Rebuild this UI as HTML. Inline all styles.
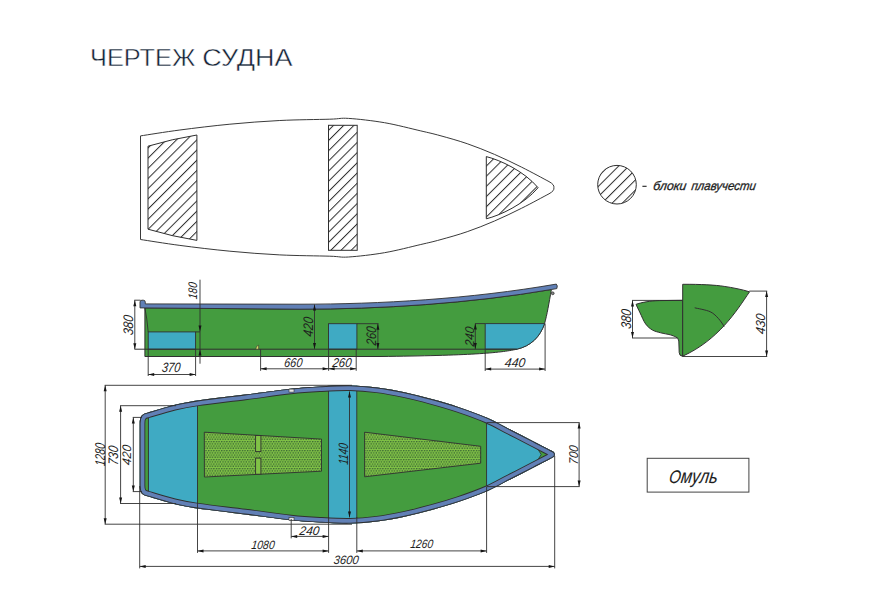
<!DOCTYPE html>
<html><head><meta charset="utf-8">
<style>
html,body{margin:0;padding:0;background:#fff;}
body{width:881px;height:598px;overflow:hidden;position:relative;}
svg{position:absolute;left:0;top:0;}
.t{font-family:"Liberation Sans",sans-serif;fill:#132235;}
.d{font-family:"Liberation Sans",sans-serif;font-style:italic;fill:#1e1e1e;}
.g{font-family:"Liberation Sans",sans-serif;font-style:italic;fill:#1e1e1e;}
</style></head><body>
<svg width="881" height="598" viewBox="0 0 881 598">
<defs>
<pattern id="hatch" patternUnits="userSpaceOnUse" width="7.2" height="7.2" patternTransform="rotate(45)">
<rect width="7.2" height="7.2" fill="#fff"/>
<line x1="0.5" y1="0" x2="0.5" y2="7.2" stroke="#2e2e2e" stroke-width="1"/>
</pattern>
<pattern id="mesh" patternUnits="userSpaceOnUse" width="2.6" height="4.5">
<rect width="2.6" height="4.5" fill="#80c246"/>
<circle cx="0.65" cy="0.56" r="0.8" fill="#3b6634"/>
<circle cx="1.95" cy="2.81" r="0.8" fill="#3b6634"/>
</pattern>
</defs>
<text x="90" y="65.7" class="t" font-size="24.4" textLength="105.3" lengthAdjust="spacingAndGlyphs" stroke="#fff" stroke-width="0.45">ЧЕРТЕЖ</text>
<text x="202.3" y="65.7" class="t" font-size="24.4" textLength="90.3" lengthAdjust="spacingAndGlyphs" stroke="#fff" stroke-width="0.45">СУДНА</text>
<path d="M140.5,135.9 C147.07,134.92 165,131.95 179.9,130 C194.8,128.05 213.25,125.78 229.9,124.2 C246.55,122.62 263.15,121.33 279.8,120.5 C296.45,119.67 318.35,119.55 329.8,119.2 C341.25,118.85 339.38,117.82 348.5,118.4 C357.62,118.98 372.45,120.62 384.5,122.7 C396.55,124.78 411.55,128.75 420.8,130.9 C430.05,133.05 432.27,133.47 440,135.6 C447.73,137.73 458.12,140.57 467.2,143.7 C476.28,146.83 485.42,150.48 494.5,154.4 C503.58,158.32 512.62,162.67 521.7,167.2 C530.78,171.73 544.45,179.2 549,181.6 Q554.6,184.6 553.9,187.7 Q554.6,190.8 549,193.8 C544.45,196.2 530.78,203.67 521.7,208.2 C512.62,212.73 503.58,217.08 494.5,221 C485.42,224.92 476.28,228.57 467.2,231.7 C458.12,234.83 447.73,237.67 440,239.8 C432.27,241.93 430.05,242.35 420.8,244.5 C411.55,246.65 396.55,250.62 384.5,252.7 C372.45,254.78 357.62,256.42 348.5,257 C339.38,257.58 341.25,256.55 329.8,256.2 C318.35,255.85 296.45,255.73 279.8,254.9 C263.15,254.07 246.55,252.78 229.9,251.2 C213.25,249.62 194.8,247.35 179.9,245.4 C165,243.45 147.07,240.48 140.5,239.5 Z" fill="#fff" stroke="#3a3a3a" stroke-width="1"/>
<path d="M148,146.2 Q172,139 196.9,135 L196.9,240.4 Q172,236.4 148,229.2 Z" fill="url(#hatch)" stroke="#2e2e2e" stroke-width="1"/>
<rect x="328.5" y="125.3" width="28.7" height="125" fill="url(#hatch)" stroke="#2e2e2e" stroke-width="1"/>
<path d="M486.3,156.6 C500,160 524,171 538.1,187.7 C524,204.4 500,215.4 486.3,218.8 Z" fill="url(#hatch)" stroke="#2e2e2e" stroke-width="1"/>
<circle cx="617" cy="184.7" r="19.3" fill="url(#hatch)" stroke="#2e2e2e" stroke-width="1"/>
<path d="M642.4,186.3 L646.6,186.3" stroke="#1e1e1e" stroke-width="1.1"/>
<text x="0" y="0" transform="translate(652.8,189.8) skewX(-8)" class="g" font-size="12.5" stroke="#1e1e1e" stroke-width="0.3" textLength="33.2" lengthAdjust="spacingAndGlyphs">блоки</text>
<text x="0" y="0" transform="translate(690.9,189.8) skewX(-8)" class="g" font-size="12.5" stroke="#1e1e1e" stroke-width="0.3" textLength="64.6" lengthAdjust="spacingAndGlyphs">плавучести</text>
<path d="M144.9,307.9 L300,309.2 C380,309.2 470,303.5 551.4,289.5 C549,303 547,315 544.6,323.5 C540,337 531,346 516.8,349.2 C500,353 470,355.5 380,356.5 L144.9,356.5 Z" fill="#449c3f" stroke="#303030" stroke-width="1"/>
<rect x="148.2" y="331.9" width="47.4" height="17.3" fill="#3faac3" stroke="#303030" stroke-width="0.9"/>
<rect x="328.5" y="323.7" width="28.4" height="25.5" fill="#3faac3" stroke="#303030" stroke-width="0.9"/>
<path d="M485.2,323.6 L544.6,323.6 C540,337 531,346 516.8,349.2 L485.2,349.2 Z" fill="#3faac3" stroke="#303030" stroke-width="0.9"/>
<line x1="134.5" y1="349.2" x2="517" y2="349.2" stroke="#303030" stroke-width="1.0"/>
<path d="M144.9,307.9 Q147,318 148.2,331.9" fill="none" stroke="#303030" stroke-width="0.9"/>
<line x1="195.6" y1="331.9" x2="200" y2="331.9" stroke="#303030" stroke-width="0.9"/>
<path d="M140,307.9 L140,302 Q140,300.2 142,300.2 L143.3,300.2 Q145.3,300.2 145.3,302.2 L145.3,303.9 L300,304.2 C380,304.2 470,299 556.3,284.1 Q558,285.5 556.8,288.6 L551.4,289.5 C470,303.5 380,309.2 300,309.2 L140,307.9 Z" fill="#6180b6" stroke="#303030" stroke-width="0.9"/>
<circle cx="552.7" cy="293.3" r="1.4" fill="#888" stroke="#303030" stroke-width="0.8"/>
<path d="M255.8,349.2 Q256,345.6 258.6,345.2 L258.6,349.2 Z" fill="#d9e06a" stroke="#333" stroke-width="0.6"/>
<line x1="134.8" y1="300.2" x2="134.8" y2="349.2" stroke="#303030" stroke-width="0.9"/>
<path d="M134.8,300.2 L136.3,306.2 L133.3,306.2 Z" fill="#151515"/>
<path d="M134.8,349.2 L133.3,343.2 L136.3,343.2 Z" fill="#151515"/>
<line x1="134.3" y1="300.2" x2="140.5" y2="300.2" stroke="#303030" stroke-width="0.9"/>
<text x="0" y="0" transform="translate(133.2,335.6) rotate(-90) skewX(-7)" class="d" font-size="13.82" textLength="20.04" lengthAdjust="spacingAndGlyphs">380</text>
<line x1="200" y1="279.7" x2="200" y2="363.7" stroke="#303030" stroke-width="0.9"/>
<path d="M200,331.6 L198.5,325.6 L201.5,325.6 Z" fill="#151515"/>
<path d="M200,349.6 L201.5,355.6 L198.5,355.6 Z" fill="#151515"/>
<text x="0" y="0" transform="translate(197.1,299.5) rotate(-90) skewX(-7)" class="d" font-size="12.4" textLength="16.72" lengthAdjust="spacingAndGlyphs">180</text>
<line x1="314.5" y1="304.6" x2="314.5" y2="348.9" stroke="#303030" stroke-width="0.9"/>
<path d="M314.5,304.6 L316,310.6 L313,310.6 Z" fill="#151515"/>
<path d="M314.5,348.9 L313,342.9 L316,342.9 Z" fill="#151515"/>
<text x="0" y="0" transform="translate(312.5,337) rotate(-90) skewX(-7)" class="d" font-size="13.82" textLength="19.44" lengthAdjust="spacingAndGlyphs">420</text>
<line x1="377.9" y1="323.7" x2="377.9" y2="349" stroke="#303030" stroke-width="0.9"/>
<path d="M377.9,323.7 L379.4,329.7 L376.4,329.7 Z" fill="#151515"/>
<path d="M377.9,349 L376.4,343 L379.4,343 Z" fill="#151515"/>
<line x1="356.9" y1="323.7" x2="378.5" y2="323.7" stroke="#303030" stroke-width="0.9"/>
<text x="0" y="0" transform="translate(376.1,345.7) rotate(-90) skewX(-7)" class="d" font-size="13.82" textLength="18.64" lengthAdjust="spacingAndGlyphs">260</text>
<line x1="475.3" y1="323.6" x2="475.3" y2="349.1" stroke="#303030" stroke-width="0.9"/>
<path d="M475.3,323.6 L476.8,329.6 L473.8,329.6 Z" fill="#151515"/>
<path d="M475.3,349.1 L473.8,343.1 L476.8,343.1 Z" fill="#151515"/>
<line x1="475" y1="323.6" x2="485.2" y2="323.6" stroke="#303030" stroke-width="0.9"/>
<text x="0" y="0" transform="translate(473.6,346.7) rotate(-90) skewX(-7)" class="d" font-size="12.75" textLength="19.54" lengthAdjust="spacingAndGlyphs">240</text>
<line x1="148.2" y1="374.5" x2="195.6" y2="374.5" stroke="#303030" stroke-width="0.9"/>
<path d="M148.2,374.5 L154.2,373 L154.2,376 Z" fill="#151515"/>
<path d="M195.6,374.5 L189.6,376 L189.6,373 Z" fill="#151515"/>
<line x1="148.2" y1="349.2" x2="148.2" y2="376" stroke="#303030" stroke-width="0.9"/>
<line x1="195.6" y1="349.2" x2="195.6" y2="376" stroke="#303030" stroke-width="0.9"/>
<text x="0" y="0" transform="translate(161.4,372.2) skewX(-7)" class="d" font-size="13.46" textLength="18.54" lengthAdjust="spacingAndGlyphs">370</text>
<line x1="260.6" y1="368.8" x2="328.6" y2="368.8" stroke="#303030" stroke-width="0.9"/>
<path d="M260.6,368.8 L266.6,367.3 L266.6,370.3 Z" fill="#151515"/>
<path d="M328.6,368.8 L322.6,370.3 L322.6,367.3 Z" fill="#151515"/>
<line x1="260.6" y1="349.2" x2="260.6" y2="370.8" stroke="#303030" stroke-width="0.9"/>
<line x1="328.6" y1="349.2" x2="328.6" y2="370.8" stroke="#303030" stroke-width="0.9"/>
<text x="0" y="0" transform="translate(283.8,367) skewX(-7)" class="d" font-size="12.75" textLength="18.13" lengthAdjust="spacingAndGlyphs">660</text>
<line x1="328.6" y1="368.8" x2="356.2" y2="368.8" stroke="#303030" stroke-width="0.9"/>
<path d="M328.6,368.8 L334.6,367.3 L334.6,370.3 Z" fill="#151515"/>
<path d="M356.2,368.8 L350.2,370.3 L350.2,367.3 Z" fill="#151515"/>
<line x1="356.2" y1="349.2" x2="356.2" y2="370.8" stroke="#303030" stroke-width="0.9"/>
<text x="0" y="0" transform="translate(331.9,367) skewX(-7)" class="d" font-size="12.75" textLength="19.25" lengthAdjust="spacingAndGlyphs">260</text>
<line x1="485.2" y1="369.1" x2="545.1" y2="369.1" stroke="#303030" stroke-width="0.9"/>
<path d="M485.2,369.1 L491.2,367.6 L491.2,370.6 Z" fill="#151515"/>
<path d="M545.1,369.1 L539.1,370.6 L539.1,367.6 Z" fill="#151515"/>
<line x1="485.2" y1="349.2" x2="485.2" y2="371" stroke="#303030" stroke-width="0.9"/>
<line x1="545.1" y1="323.6" x2="545.1" y2="371" stroke="#303030" stroke-width="0.9"/>
<text x="0" y="0" transform="translate(504.3,367) skewX(-7)" class="d" font-size="12.75" textLength="20.54" lengthAdjust="spacingAndGlyphs">440</text>
<path d="M682.6,300.3 L682.6,356.3 Q679.3,356 679.2,352.5 L678.8,341 Q678.3,337.5 675.7,336.9 C674.78,336.55 672.7,335.48 670.2,334.8 C667.7,334.12 663.67,333.6 660.7,332.8 C657.73,332 654.92,331.48 652.4,330 C649.88,328.52 647.65,326.75 645.6,323.9 C643.55,321.05 641.7,316.15 640.1,312.9 C638.5,309.65 636.68,305.82 636,304.4 C641,302.5 650,300.8 659.3,300.6 L682.6,300.3 Z" fill="#449c3f" stroke="#303030" stroke-width="1"/>
<path d="M682.7,284.3 C700,284.2 716,285 724.2,286.4 C732,287.5 742,289.5 749.5,291.8 C736,312 718,340 682.7,356.2 Z" fill="#449c3f" stroke="#303030" stroke-width="1"/>
<path d="M694.7,307.8 C697.27,308.45 706.12,309.88 710.1,311.7 C714.08,313.52 716.25,316.23 718.6,318.7 C720.95,321.17 723.27,325.2 724.2,326.5 " fill="none" stroke="#303030" stroke-width="1"/>
<line x1="632.5" y1="300.4" x2="632.5" y2="338" stroke="#303030" stroke-width="0.9"/>
<path d="M632.5,300.4 L634,306.4 L631,306.4 Z" fill="#151515"/>
<path d="M632.5,338 L631,332 L634,332 Z" fill="#151515"/>
<line x1="632" y1="300.4" x2="682.6" y2="300.4" stroke="#303030" stroke-width="0.9"/>
<line x1="632" y1="338" x2="677.5" y2="338" stroke="#303030" stroke-width="0.9"/>
<text x="0" y="0" transform="translate(630.5,329.3) rotate(-90) skewX(-7)" class="d" font-size="14.12" textLength="19.72" lengthAdjust="spacingAndGlyphs">380</text>
<line x1="766.6" y1="291.1" x2="766.6" y2="356.5" stroke="#303030" stroke-width="0.9"/>
<path d="M766.6,291.1 L768.1,297.1 L765.1,297.1 Z" fill="#151515"/>
<path d="M766.6,356.5 L765.1,350.5 L768.1,350.5 Z" fill="#151515"/>
<line x1="749.3" y1="291.1" x2="767.2" y2="291.1" stroke="#303030" stroke-width="0.9"/>
<line x1="682.6" y1="356.5" x2="767.2" y2="356.5" stroke="#303030" stroke-width="0.9"/>
<text x="0" y="0" transform="translate(764.5,334.5) rotate(-90) skewX(-7)" class="d" font-size="13.1" textLength="20.32" lengthAdjust="spacingAndGlyphs">430</text>
<defs><clipPath id="pc"><path d="M139.7,430 L139.7,423.5 C139.7,417 141.5,413.8 147.4,412.7 C151.85,411.42 165.72,407.03 174.1,405 C182.48,402.97 185.88,402.23 197.7,400.5 C209.52,398.77 229.52,396.57 245,394.6 C260.48,392.63 278.1,390.07 290.6,388.7 C303.1,387.33 310.1,386.95 320,386.4 C329.9,385.85 340.47,385.22 350,385.4 C359.53,385.58 368.12,386.35 377.2,387.5 C386.28,388.65 395.42,390.37 404.5,392.3 C413.58,394.23 422.63,396.62 431.7,399.1 C440.77,401.58 449.57,404.05 458.9,407.2 C468.23,410.35 479.12,414.27 487.7,418 C496.28,421.73 502.83,425.72 510.4,429.6 C517.97,433.48 526.58,437.93 533.1,441.3 C539.62,444.67 546.77,448.38 549.5,449.8 Q555.5,452.2 554.7,454.5 Q555.5,456.8 549.5,459.2 C546.77,460.62 539.62,464.33 533.1,467.7 C526.58,471.07 517.97,475.52 510.4,479.4 C502.83,483.28 496.28,487.27 487.7,491 C479.12,494.73 468.23,498.65 458.9,501.8 C449.57,504.95 440.77,507.42 431.7,509.9 C422.63,512.38 413.58,514.77 404.5,516.7 C395.42,518.63 386.28,520.35 377.2,521.5 C368.12,522.65 359.53,523.42 350,523.6 C340.47,523.78 329.9,523.15 320,522.6 C310.1,522.05 303.1,521.67 290.6,520.3 C278.1,518.93 260.48,516.37 245,514.4 C229.52,512.43 209.52,510.23 197.7,508.5 C185.88,506.77 182.48,506.03 174.1,504 C165.72,501.97 151.85,497.58 147.4,496.3 C141.5,495.2 139.7,492 139.7,485.5 Z"/></clipPath></defs>
<path d="M139.7,430 L139.7,423.5 C139.7,417 141.5,413.8 147.4,412.7 C151.85,411.42 165.72,407.03 174.1,405 C182.48,402.97 185.88,402.23 197.7,400.5 C209.52,398.77 229.52,396.57 245,394.6 C260.48,392.63 278.1,390.07 290.6,388.7 C303.1,387.33 310.1,386.95 320,386.4 C329.9,385.85 340.47,385.22 350,385.4 C359.53,385.58 368.12,386.35 377.2,387.5 C386.28,388.65 395.42,390.37 404.5,392.3 C413.58,394.23 422.63,396.62 431.7,399.1 C440.77,401.58 449.57,404.05 458.9,407.2 C468.23,410.35 479.12,414.27 487.7,418 C496.28,421.73 502.83,425.72 510.4,429.6 C517.97,433.48 526.58,437.93 533.1,441.3 C539.62,444.67 546.77,448.38 549.5,449.8 Q555.5,452.2 554.7,454.5 Q555.5,456.8 549.5,459.2 C546.77,460.62 539.62,464.33 533.1,467.7 C526.58,471.07 517.97,475.52 510.4,479.4 C502.83,483.28 496.28,487.27 487.7,491 C479.12,494.73 468.23,498.65 458.9,501.8 C449.57,504.95 440.77,507.42 431.7,509.9 C422.63,512.38 413.58,514.77 404.5,516.7 C395.42,518.63 386.28,520.35 377.2,521.5 C368.12,522.65 359.53,523.42 350,523.6 C340.47,523.78 329.9,523.15 320,522.6 C310.1,522.05 303.1,521.67 290.6,520.3 C278.1,518.93 260.48,516.37 245,514.4 C229.52,512.43 209.52,510.23 197.7,508.5 C185.88,506.77 182.48,506.03 174.1,504 C165.72,501.97 151.85,497.58 147.4,496.3 C141.5,495.2 139.7,492 139.7,485.5 Z" fill="#449c3f"/>
<g clip-path="url(#pc)">
<rect x="148.4" y="380" width="49.1" height="150" fill="#3faac3" stroke="#303030" stroke-width="0.9"/>
<rect x="328.6" y="380" width="28.2" height="150" fill="#3faac3" stroke="#303030" stroke-width="0.9"/>
<rect x="486.6" y="380" width="100" height="150" fill="#3faac3" stroke="#303030" stroke-width="0.9"/>
<path d="M537.6,448.7 L549,454.5 L537.6,460.3 L541.2,454.5 Z" fill="#449c3f" stroke="#303030" stroke-width="0.8"/>
<path d="M139.7,430 L139.7,423.5 C139.7,417 141.5,413.8 147.4,412.7 C151.85,411.42 165.72,407.03 174.1,405 C182.48,402.97 185.88,402.23 197.7,400.5 C209.52,398.77 229.52,396.57 245,394.6 C260.48,392.63 278.1,390.07 290.6,388.7 C303.1,387.33 310.1,386.95 320,386.4 C329.9,385.85 340.47,385.22 350,385.4 C359.53,385.58 368.12,386.35 377.2,387.5 C386.28,388.65 395.42,390.37 404.5,392.3 C413.58,394.23 422.63,396.62 431.7,399.1 C440.77,401.58 449.57,404.05 458.9,407.2 C468.23,410.35 479.12,414.27 487.7,418 C496.28,421.73 502.83,425.72 510.4,429.6 C517.97,433.48 526.58,437.93 533.1,441.3 C539.62,444.67 546.77,448.38 549.5,449.8 Q555.5,452.2 554.7,454.5 Q555.5,456.8 549.5,459.2 C546.77,460.62 539.62,464.33 533.1,467.7 C526.58,471.07 517.97,475.52 510.4,479.4 C502.83,483.28 496.28,487.27 487.7,491 C479.12,494.73 468.23,498.65 458.9,501.8 C449.57,504.95 440.77,507.42 431.7,509.9 C422.63,512.38 413.58,514.77 404.5,516.7 C395.42,518.63 386.28,520.35 377.2,521.5 C368.12,522.65 359.53,523.42 350,523.6 C340.47,523.78 329.9,523.15 320,522.6 C310.1,522.05 303.1,521.67 290.6,520.3 C278.1,518.93 260.48,516.37 245,514.4 C229.52,512.43 209.52,510.23 197.7,508.5 C185.88,506.77 182.48,506.03 174.1,504 C165.72,501.97 151.85,497.58 147.4,496.3 C141.5,495.2 139.7,492 139.7,485.5 Z" fill="none" stroke="#303030" stroke-width="11.2"/>
<path d="M139.7,430 L139.7,423.5 C139.7,417 141.5,413.8 147.4,412.7 C151.85,411.42 165.72,407.03 174.1,405 C182.48,402.97 185.88,402.23 197.7,400.5 C209.52,398.77 229.52,396.57 245,394.6 C260.48,392.63 278.1,390.07 290.6,388.7 C303.1,387.33 310.1,386.95 320,386.4 C329.9,385.85 340.47,385.22 350,385.4 C359.53,385.58 368.12,386.35 377.2,387.5 C386.28,388.65 395.42,390.37 404.5,392.3 C413.58,394.23 422.63,396.62 431.7,399.1 C440.77,401.58 449.57,404.05 458.9,407.2 C468.23,410.35 479.12,414.27 487.7,418 C496.28,421.73 502.83,425.72 510.4,429.6 C517.97,433.48 526.58,437.93 533.1,441.3 C539.62,444.67 546.77,448.38 549.5,449.8 Q555.5,452.2 554.7,454.5 Q555.5,456.8 549.5,459.2 C546.77,460.62 539.62,464.33 533.1,467.7 C526.58,471.07 517.97,475.52 510.4,479.4 C502.83,483.28 496.28,487.27 487.7,491 C479.12,494.73 468.23,498.65 458.9,501.8 C449.57,504.95 440.77,507.42 431.7,509.9 C422.63,512.38 413.58,514.77 404.5,516.7 C395.42,518.63 386.28,520.35 377.2,521.5 C368.12,522.65 359.53,523.42 350,523.6 C340.47,523.78 329.9,523.15 320,522.6 C310.1,522.05 303.1,521.67 290.6,520.3 C278.1,518.93 260.48,516.37 245,514.4 C229.52,512.43 209.52,510.23 197.7,508.5 C185.88,506.77 182.48,506.03 174.1,504 C165.72,501.97 151.85,497.58 147.4,496.3 C141.5,495.2 139.7,492 139.7,485.5 Z" fill="none" stroke="#6180b6" stroke-width="9.4"/>
<path d="M139.7,430 L139.7,423.5 C139.7,417 141.5,413.8 147.4,412.7 C151.85,411.42 165.72,407.03 174.1,405 C182.48,402.97 185.88,402.23 197.7,400.5 C209.52,398.77 229.52,396.57 245,394.6 C260.48,392.63 278.1,390.07 290.6,388.7 C303.1,387.33 310.1,386.95 320,386.4 C329.9,385.85 340.47,385.22 350,385.4 C359.53,385.58 368.12,386.35 377.2,387.5 C386.28,388.65 395.42,390.37 404.5,392.3 C413.58,394.23 422.63,396.62 431.7,399.1 C440.77,401.58 449.57,404.05 458.9,407.2 C468.23,410.35 479.12,414.27 487.7,418 C496.28,421.73 502.83,425.72 510.4,429.6 C517.97,433.48 526.58,437.93 533.1,441.3 C539.62,444.67 546.77,448.38 549.5,449.8 Q555.5,452.2 554.7,454.5 Q555.5,456.8 549.5,459.2 C546.77,460.62 539.62,464.33 533.1,467.7 C526.58,471.07 517.97,475.52 510.4,479.4 C502.83,483.28 496.28,487.27 487.7,491 C479.12,494.73 468.23,498.65 458.9,501.8 C449.57,504.95 440.77,507.42 431.7,509.9 C422.63,512.38 413.58,514.77 404.5,516.7 C395.42,518.63 386.28,520.35 377.2,521.5 C368.12,522.65 359.53,523.42 350,523.6 C340.47,523.78 329.9,523.15 320,522.6 C310.1,522.05 303.1,521.67 290.6,520.3 C278.1,518.93 260.48,516.37 245,514.4 C229.52,512.43 209.52,510.23 197.7,508.5 C185.88,506.77 182.48,506.03 174.1,504 C165.72,501.97 151.85,497.58 147.4,496.3 C141.5,495.2 139.7,492 139.7,485.5 Z" fill="none" stroke="#303030" stroke-width="1.8"/>
</g>
<path d="M204.3,432.2 L321.5,439.1 L321.5,471.2 L204.4,477 Z" fill="url(#mesh)" stroke="#303030" stroke-width="0.9"/>
<rect x="255.6" y="435.5" width="5.3" height="16.1" fill="#80c246" stroke="#303030" stroke-width="0.9"/>
<rect x="255.6" y="458.1" width="5.3" height="16.1" fill="#80c246" stroke="#303030" stroke-width="0.9"/>
<path d="M364.6,432.2 L480.7,446.3 L480.7,463.2 L364.6,476.8 Z" fill="url(#mesh)" stroke="#303030" stroke-width="0.9"/>
<rect x="289" y="389.1" width="5" height="3" fill="#e8e8e8" stroke="#333" stroke-width="0.6"/>
<rect x="289" y="517.5" width="5" height="3" fill="#e8e8e8" stroke="#333" stroke-width="0.6"/>
<line x1="105.2" y1="385.3" x2="105.2" y2="524.2" stroke="#303030" stroke-width="0.9"/>
<path d="M105.2,385.3 L106.7,391.3 L103.7,391.3 Z" fill="#151515"/>
<path d="M105.2,524.2 L103.7,518.2 L106.7,518.2 Z" fill="#151515"/>
<line x1="104.7" y1="385.3" x2="352" y2="385.3" stroke="#303030" stroke-width="0.9"/>
<line x1="104.7" y1="524.2" x2="352" y2="524.2" stroke="#303030" stroke-width="0.9"/>
<text x="0" y="0" transform="translate(104.6,466.3) rotate(-90) skewX(-7)" class="d" font-size="14.16" textLength="22.71" lengthAdjust="spacingAndGlyphs">1280</text>
<line x1="120.6" y1="405.7" x2="120.6" y2="503.5" stroke="#303030" stroke-width="0.9"/>
<path d="M120.6,405.7 L122.1,411.7 L119.1,411.7 Z" fill="#151515"/>
<path d="M120.6,503.5 L119.1,497.5 L122.1,497.5 Z" fill="#151515"/>
<line x1="120.1" y1="405.7" x2="176" y2="405.7" stroke="#303030" stroke-width="0.9"/>
<line x1="120.1" y1="503.5" x2="176" y2="503.5" stroke="#303030" stroke-width="0.9"/>
<text x="0" y="0" transform="translate(118.3,465.6) rotate(-90) skewX(-7)" class="d" font-size="13.82" textLength="19.32" lengthAdjust="spacingAndGlyphs">730</text>
<line x1="133.3" y1="417.4" x2="133.3" y2="491.6" stroke="#303030" stroke-width="0.9"/>
<path d="M133.3,417.4 L134.8,423.4 L131.8,423.4 Z" fill="#151515"/>
<path d="M133.3,491.6 L131.8,485.6 L134.8,485.6 Z" fill="#151515"/>
<line x1="132.8" y1="417.4" x2="142" y2="417.4" stroke="#303030" stroke-width="0.9"/>
<line x1="132.8" y1="491.6" x2="142" y2="491.6" stroke="#303030" stroke-width="0.9"/>
<text x="0" y="0" transform="translate(131.1,465.5) rotate(-90) skewX(-7)" class="d" font-size="12.43" textLength="20.12" lengthAdjust="spacingAndGlyphs">420</text>
<line x1="349.5" y1="391.4" x2="349.5" y2="517.4" stroke="#303030" stroke-width="0.9"/>
<path d="M349.5,391.4 L351,397.4 L348,397.4 Z" fill="#151515"/>
<path d="M349.5,517.4 L348,511.4 L351,511.4 Z" fill="#151515"/>
<text x="0" y="0" transform="translate(348.2,465.1) rotate(-90) skewX(-7)" class="d" font-size="13.46" textLength="21.35" lengthAdjust="spacingAndGlyphs">1140</text>
<line x1="579.1" y1="422.6" x2="579.1" y2="486.6" stroke="#303030" stroke-width="0.9"/>
<path d="M579.1,422.6 L580.6,428.6 L577.6,428.6 Z" fill="#151515"/>
<path d="M579.1,486.6 L577.6,480.6 L580.6,480.6 Z" fill="#151515"/>
<line x1="486.6" y1="422.6" x2="579.6" y2="422.6" stroke="#303030" stroke-width="0.9"/>
<line x1="486.6" y1="486.6" x2="579.6" y2="486.6" stroke="#303030" stroke-width="0.9"/>
<text x="0" y="0" transform="translate(577.6,464.9) rotate(-90) skewX(-7)" class="d" font-size="12.75" textLength="19.13" lengthAdjust="spacingAndGlyphs">700</text>
<line x1="291.2" y1="536.4" x2="328.6" y2="536.4" stroke="#303030" stroke-width="0.9"/>
<path d="M291.2,536.4 L297.2,534.9 L297.2,537.9 Z" fill="#151515"/>
<path d="M328.6,536.4 L322.6,537.9 L322.6,534.9 Z" fill="#151515"/>
<line x1="291.2" y1="519" x2="291.2" y2="538.4" stroke="#303030" stroke-width="0.9"/>
<text x="0" y="0" transform="translate(299,534.6) skewX(-7)" class="d" font-size="12.4" textLength="20.05" lengthAdjust="spacingAndGlyphs">240</text>
<line x1="197.5" y1="550.9" x2="328.6" y2="550.9" stroke="#303030" stroke-width="0.9"/>
<path d="M197.5,550.9 L203.5,549.4 L203.5,552.4 Z" fill="#151515"/>
<path d="M328.6,550.9 L322.6,552.4 L322.6,549.4 Z" fill="#151515"/>
<line x1="197.5" y1="503" x2="197.5" y2="552.9" stroke="#303030" stroke-width="0.9"/>
<line x1="328.6" y1="517" x2="328.6" y2="552.9" stroke="#303030" stroke-width="0.9"/>
<text x="0" y="0" transform="translate(251,548.6) skewX(-7)" class="d" font-size="12.08" textLength="23.22" lengthAdjust="spacingAndGlyphs">1080</text>
<line x1="356.8" y1="550.9" x2="486.6" y2="550.9" stroke="#303030" stroke-width="0.9"/>
<path d="M356.8,550.9 L362.8,549.4 L362.8,552.4 Z" fill="#151515"/>
<path d="M486.6,550.9 L480.6,552.4 L480.6,549.4 Z" fill="#151515"/>
<line x1="356.8" y1="517" x2="356.8" y2="552.9" stroke="#303030" stroke-width="0.9"/>
<line x1="486.6" y1="487" x2="486.6" y2="552.9" stroke="#303030" stroke-width="0.9"/>
<text x="0" y="0" transform="translate(409.9,548.3) skewX(-7)" class="d" font-size="12.08" textLength="22.84" lengthAdjust="spacingAndGlyphs">1260</text>
<line x1="139.7" y1="566.4" x2="554.7" y2="566.4" stroke="#303030" stroke-width="0.9"/>
<path d="M139.7,566.4 L145.7,564.9 L145.7,567.9 Z" fill="#151515"/>
<path d="M554.7,566.4 L548.7,567.9 L548.7,564.9 Z" fill="#151515"/>
<line x1="139.7" y1="486" x2="139.7" y2="568.4" stroke="#303030" stroke-width="0.9"/>
<line x1="554.7" y1="456" x2="554.7" y2="568.4" stroke="#303030" stroke-width="0.9"/>
<text x="0" y="0" transform="translate(333.2,564.1) skewX(-7)" class="d" font-size="12.08" textLength="25.15" lengthAdjust="spacingAndGlyphs">3600</text>
<rect x="647.2" y="458.3" width="101.7" height="33.8" fill="none" stroke="#444" stroke-width="1"/>
<text x="0" y="0" transform="translate(668.5,482.9) skewX(-8)" class="g" font-size="18.2" textLength="48.5" stroke="#1e1e1e" stroke-width="0.1" lengthAdjust="spacingAndGlyphs">О<tspan font-size="19.8">муль</tspan></text>
</svg>
</body></html>
